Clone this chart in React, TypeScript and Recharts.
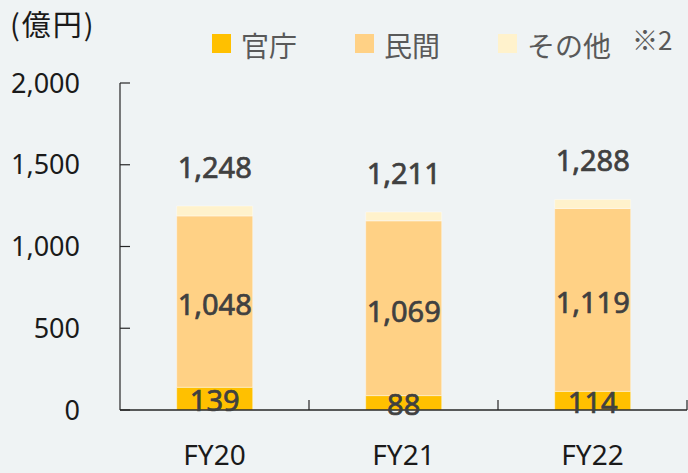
import { Bar, BarChart, LabelList, Legend, XAxis, YAxis } from 'recharts'

const years = ['FY20', 'FY21', 'FY22']
const seriesNames = ['官庁', '民間', 'その他']
const kancho = [139, 88, 114]
const minkan = [1048, 1069, 1119]
const sonota = [61, 54, 55]
const totals = [1248, 1211, 1288]
const yTicks = [0, 500, 1000, 1500, 2000]

const COLORS = ['#FFC000', '#FFD185', '#FFF2CC']
const NUM_FONT = "'Noto Sans', 'Open Sans', sans-serif"
const JP_FONT = "'Noto Sans CJK JP', 'Noto Sans', sans-serif"

const data = years.map((year, i) => ({
	year,
	kancho: kancho[i],
	minkan: minkan[i],
	sonota: sonota[i],
	total: totals[i],
}))

const fmt = (v: number) => v.toLocaleString('en-US')

const YTick = ({ x, y, payload }: any) => (
	<g>
		<line x1={x} x2={x + 10} y1={y} y2={y} stroke="#262626" strokeWidth={1.2} />
		<text x={x - 40} y={y} dy="0.36em" textAnchor="end" fontSize={27} fill="#1a1a1a" fontFamily={NUM_FONT}>
			{fmt(payload.value)}
		</text>
	</g>
)

const XTick = ({ x, y, payload }: any) => {
	const half = payload.offset ?? 0
	return (
		<g>
			<line x1={x + half} x2={x + half} y1={y} y2={y - 10} stroke="#262626" strokeWidth={1.2} />
			<text x={x} y={y + 55} textAnchor="middle" fontSize={28} fill="#1a1a1a" fontFamily={NUM_FONT}>
				{payload.value}
			</text>
		</g>
	)
}

const TotalLabel = ({ x, y, width, value }: any) => (
	<text
		x={x + width / 2}
		y={y - 28}
		textAnchor="middle"
		fontSize={29}
		fill="#404040"
		stroke="#404040"
		strokeWidth={0.7}
		fontFamily={NUM_FONT}
	>
		{fmt(value)}
	</text>
)

const LegendContent = ({ payload }: any) => {
	const items = [...(payload || [])].sort(
		(a: any, b: any) => seriesNames.indexOf(a.value) - seriesNames.indexOf(b.value)
	)
	return (
		<div style={{ display: 'flex', alignItems: 'center', marginLeft: 212, marginTop: 27, fontFamily: JP_FONT }}>
			{items.map((item: any) => (
				<div key={item.value} style={{ display: 'flex', alignItems: 'center', width: 143 }}>
					<span style={{ width: 19, height: 19, background: item.color, display: 'inline-block', marginRight: 10 }} />
					<span style={{ fontSize: 28, color: '#595959', lineHeight: '30px', display: 'inline-block', marginTop: 3 }}>
						{item.value}
					</span>
				</div>
			))}
			<span style={{ position: 'absolute', left: 632, top: 20, fontSize: 26, color: '#595959' }}>※2</span>
		</div>
	)
}

const App = () => {
	return (
		<div
			style={{
				position: 'absolute',
				left: 0,
				top: 0,
				width: 688,
				height: 473,
				background: '#EFF3F4',
			}}
		>
			<div
				style={{
					position: 'absolute',
					left: 10,
					top: 7,
					fontSize: 29,
					lineHeight: '32px',
					letterSpacing: 2,
					color: '#1a1a1a',
					fontFamily: JP_FONT,
				}}
			>
				(億円)
			</div>
			<BarChart
				width={688}
				height={473}
				data={data}
				margin={{ top: 83, right: 1, left: 0, bottom: 0 }}
				barCategoryGap="30%"
			>
				<XAxis
					dataKey="year"
					height={63}
					tickLine={false}
					tickSize={0}
					tickMargin={0}
					axisLine={{ stroke: '#262626', strokeWidth: 1.5 }}
					tick={<XTick />}
					interval={0}
				/>
				<YAxis
					width={120}
					domain={[0, 2000]}
					ticks={yTicks}
					tickLine={false}
					tickSize={0}
					tickMargin={0}
					axisLine={{ stroke: '#262626', strokeWidth: 1.2 }}
					tick={<YTick />}
					interval={0}
				/>
				<Legend
					layout="horizontal"
					verticalAlign="middle"
					align="center"
					wrapperStyle={{ top: 0, left: 0, width: 688 }}
					content={<LegendContent />}
				/>
				<Bar dataKey="kancho" name={seriesNames[0]} stackId="a" fill={COLORS[0]} stroke="#ffffff" strokeOpacity={0.4} isAnimationActive={false}>
					<LabelList dataKey="kancho" position="center" offset={0} dy={2} fill="#404040" stroke="#404040" strokeWidth={0.7} fontSize={29} fontFamily={NUM_FONT} formatter={(v: any) => fmt(v)} />
				</Bar>
				<Bar dataKey="minkan" name={seriesNames[1]} stackId="a" fill={COLORS[1]} stroke="#ffffff" strokeOpacity={0.4} isAnimationActive={false}>
					<LabelList dataKey="minkan" position="center" dy={3} fill="#404040" stroke="#404040" strokeWidth={0.7} fontSize={29} fontFamily={NUM_FONT} formatter={(v: any) => fmt(v)} />
				</Bar>
				<Bar dataKey="sonota" name={seriesNames[2]} stackId="a" fill={COLORS[2]} stroke="#ffffff" strokeOpacity={0.4} isAnimationActive={false}>
					<LabelList dataKey="total" content={<TotalLabel />} />
				</Bar>
			</BarChart>
		</div>
	)
}

export default App
